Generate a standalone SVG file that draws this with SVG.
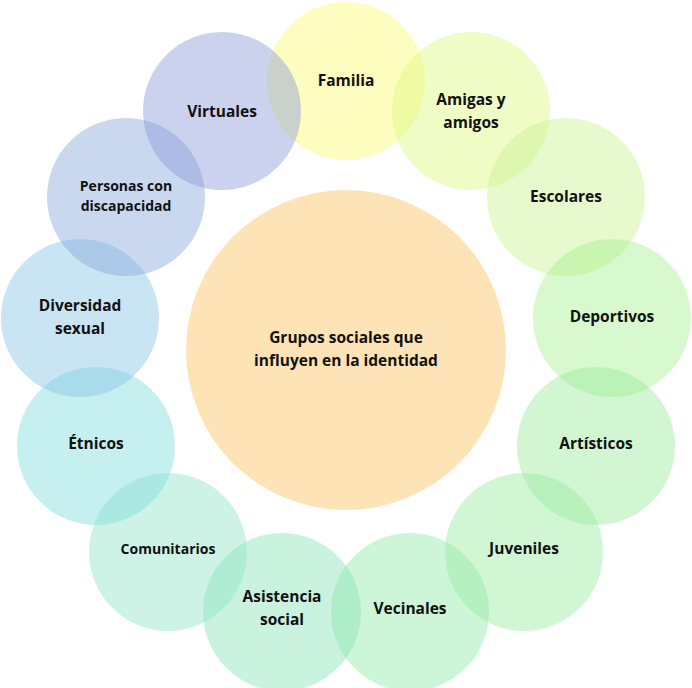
<svg xmlns="http://www.w3.org/2000/svg" width="692" height="688" viewBox="0 0 692 688">
<style>
circle{fill-opacity:0.45}
text{font-family:"Open Sans","Noto Sans",sans-serif;font-weight:bold;font-size:15.5px;fill:#111;text-anchor:middle}
.s{font-size:14px}
</style>
<rect width="692" height="688" fill="#fff"/>
<g id="center"><circle cx="346" cy="350" r="160" fill="#fdc060" fill-opacity="0.4"/><text x="346" y="343">Grupos  sociales  que</text><text x="346" y="366">influyen en la identidad</text></g>
<g id="familia"><circle cx="346" cy="81" r="79" fill="#fbfb70"/><text x="346" y="86">Familia</text></g>
<g id="amigas"><circle cx="471" cy="111" r="79" fill="#dcf880"/><text x="471" y="105">Amigas y</text><text x="471" y="128">amigos</text></g>
<g id="escolares"><circle cx="566" cy="197" r="79" fill="#c8f490"/><text x="566" y="202">Escolares</text></g>
<g id="deportivos"><circle cx="612" cy="318" r="79" fill="#a8f090"/><text x="612" y="322">Deportivos</text></g>
<g id="artisticos"><circle cx="596" cy="446" r="79" fill="#98ec98"/><text x="596" y="449">Artísticos</text></g>
<g id="juveniles"><circle cx="524" cy="552" r="79" fill="#98eca0"/><text x="524" y="554">Juveniles</text></g>
<g id="vecinales"><circle cx="410" cy="612" r="79" fill="#90e8a8"/><text x="410" y="614">Vecinales</text></g>
<g id="asistencia"><circle cx="282" cy="612" r="79" fill="#88e4b8"/><text x="282" y="602">Asistencia</text><text x="282" y="625">social</text></g>
<g id="comunitarios"><circle cx="168" cy="552" r="79" fill="#90e4c8"/><text class="s" x="168" y="554">Comunitarios</text></g>
<g id="etnicos"><circle cx="96" cy="446" r="79" fill="#80dcdc"/><text x="96" y="449">Étnicos</text></g>
<g id="diversidad"><circle cx="80" cy="318" r="79" fill="#88c4e4"/><text x="80" y="311">Diversidad</text><text x="80" y="334">sexual</text></g>
<g id="personas"><circle cx="126" cy="197" r="79" fill="#88a8dc"/><text class="s" x="126" y="191">Personas con</text><text class="s" x="126" y="211">discapacidad</text></g>
<g id="virtuales"><circle cx="222" cy="111" r="79" fill="#8c9cd8"/><text x="222" y="117">Virtuales</text></g>
<g id="connectors"/>
</svg>
